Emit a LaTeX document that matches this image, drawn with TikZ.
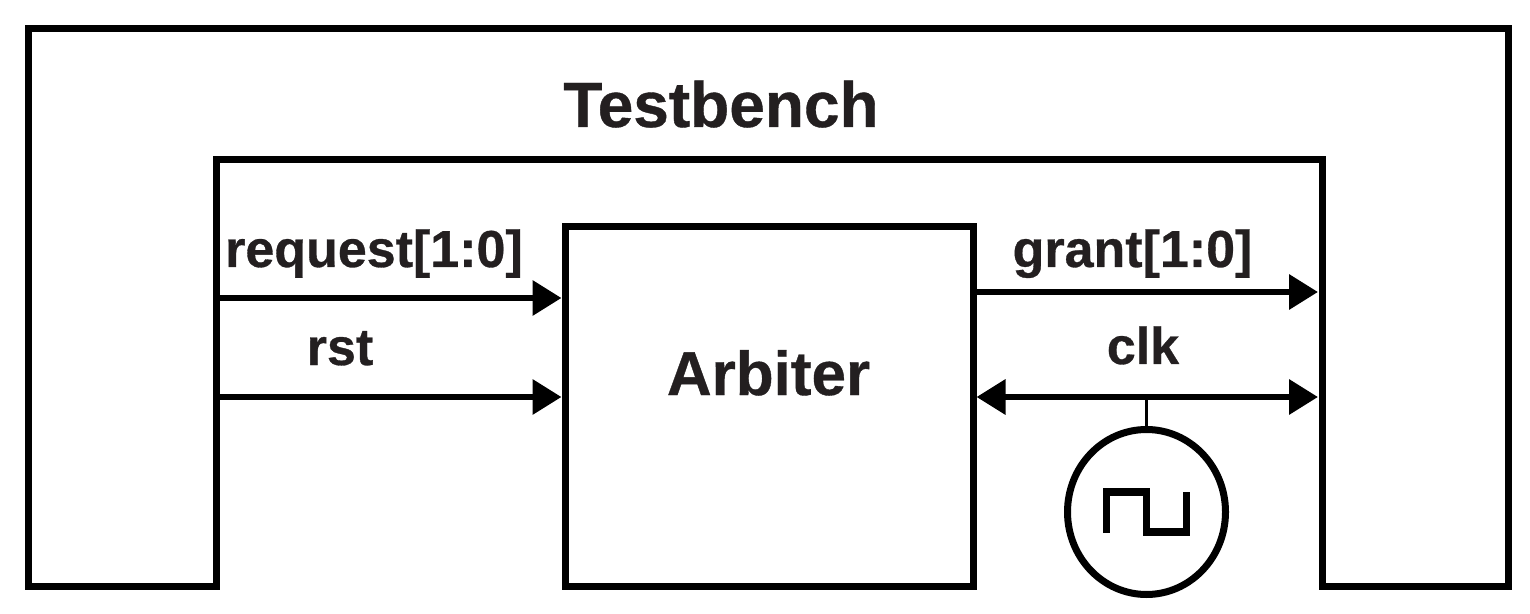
\documentclass[tikz,border=0pt]{standalone}
\usepackage{fontspec}
\setmainfont[BoldFeatures={FakeBold=0.6}]{Liberation Sans}
\usepackage{xcolor}
\usetikzlibrary{positioning,arrows.meta,calc,shapes.geometric}
\definecolor{labelink}{HTML}{231F20}

\begin{document}
\begin{tikzpicture}[
  x=0.5pt, y=-0.5pt,
  bigtext/.style={font=\fontsize{31}{31}\selectfont\bfseries, text=labelink, inner sep=0pt, anchor=base},
  sigtext/.style={font=\fontsize{26}{26}\selectfont\bfseries, text=labelink, inner sep=0pt, anchor=base},
  frame/.style={draw, line width=3.5pt},
  signal/.style={draw, line width=3.25pt},
  oneway/.style={signal, -{Triangle[length=14.5pt,width=17pt]}},
  twoway/.style={signal, {Triangle[length=14.5pt,width=17pt]}-{Triangle[length=14.5pt,width=17pt]}}
]
\useasboundingbox (0,0) rectangle (1530,614);

% testbench wall
\draw[frame] (216,586) -- (28,586) -- (28,29) -- (1508,29) -- (1508,586)
  -- (1322,586) -- (1322,160) -- (216,160) -- cycle;
\node[bigtext, font=\fontsize{32}{32}\selectfont\bfseries] (testbench) at (721,127) {Testbench};

% design under test
\node[frame, minimum width=204pt, minimum height=179.5pt] (arbiter) at (769,406.5) {};
\node[bigtext] (arbitername) at (768.5,395) {Arbiter};

% ends on the inner wall
\coordinate (reqstart) at (218,298);
\coordinate (rststart) at (218,397);
\coordinate (grantend) at (1318,292);
\coordinate (clkend) at (1318,397);

\draw[oneway] (reqstart) -- (reqstart -| arbiter.west);
\draw[oneway] (rststart) -- (rststart -| arbiter.west);
\draw[oneway] (grantend -| arbiter.east) -- (grantend);
\draw[twoway] (clkend -| arbiter.east) -- (clkend);

\node[sigtext] (request) at (374,267) {request[1:0]};
\node[sigtext] (rst) at (340,365) {rst};
\node[sigtext] (grant) at (1132.5,267) {grant[1:0]};
\node[sigtext] (clk) at (1143,364) {clk};

% clock source
\node[frame, ellipse, minimum width=79pt, minimum height=82.5pt, inner sep=0pt] (clock) at (1146.5,512) {};
\coordinate (clkjoin) at (clock |- clkend);
\draw[line width=1.5pt] (clkjoin) -- (clock.north);
\draw[draw, line width=3.75pt] ($(clock)+(-40,21)$) -- ++(0,-41) -- ++(40,0) -- ++(0,40) -- ++(40,0) -- ++(0,-40);
\end{tikzpicture}
\end{document}
